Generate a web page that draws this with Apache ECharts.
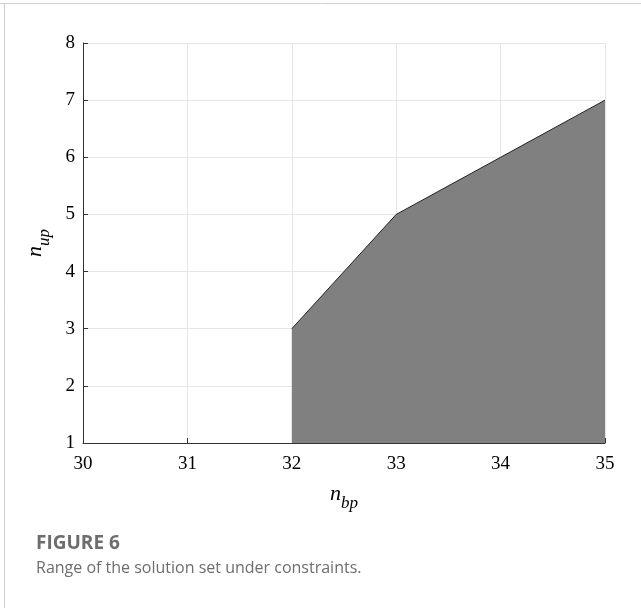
<!DOCTYPE html>
<html>
<head>
<meta charset="utf-8">
<script src="https://cdn.jsdelivr.net/npm/echarts@6/dist/echarts.min.js"></script>
<style>
  html, body { margin: 0; padding: 0; background: #fff; }
  #chart { width: 641px; height: 608px; }
</style>
</head>
<body>
<div id="chart"></div>
<script>
// Upper boundary of the feasible region (n_bp, n_up); the area below it down to n_up = 1 is shaded.
const nBp = [32, 33, 34, 35];
const nUp = [3, 5, 6, 7];
const xTicks = [30, 31, 32, 33, 34, 35];
const yTicks = [1, 2, 3, 4, 5, 6, 7, 8];

const boundary = nBp.map((x, i) => [x, nUp[i]]);

const serif = '"Liberation Serif", "Times New Roman", serif';
const chart = echarts.init(document.getElementById('chart'));

// Italic symbol with a lowered subscript
const nameRich = {
  n: { fontFamily: serif, fontStyle: 'italic', fontSize: 22, color: '#000' },
  s: { fontFamily: serif, fontStyle: 'italic', fontSize: 17, color: '#000', padding: [18, 0, 0, 0] }
};

chart.setOption({
  animation: false,
  backgroundColor: '#fff',
  grid: { left: 83, right: 36, top: 43, bottom: 165 },
  xAxis: {
    type: 'value',
    min: xTicks[0], max: xTicks[xTicks.length - 1], interval: 1,
    name: '{n|n}{s|bp}',
    nameLocation: 'middle',
    nameGap: 34,
    nameTextStyle: { rich: nameRich },
    axisLine: { onZero: false, lineStyle: { color: '#333', width: 1 } },
    axisTick: { inside: true, length: 5, lineStyle: { color: '#333' } },
    axisLabel: { fontFamily: serif, fontSize: 19, color: '#000', margin: 12 },
    splitLine: { show: true, lineStyle: { color: '#e6e6e6', width: 1 } }
  },
  yAxis: {
    type: 'value',
    min: yTicks[0], max: yTicks[yTicks.length - 1], interval: 1,
    name: '{n|n}{s|up}',
    nameLocation: 'middle',
    nameRotate: 90,
    nameGap: 30,
    nameTextStyle: { rich: nameRich },
    axisLine: { onZero: false, lineStyle: { color: '#333', width: 1 } },
    axisTick: { inside: true, length: 5, lineStyle: { color: '#333' } },
    axisLabel: { fontFamily: serif, fontSize: 19, color: '#000', margin: 8 },
    splitLine: { show: true, lineStyle: { color: '#e6e6e6', width: 1 } }
  },
  series: [{
    type: 'line',
    data: boundary,
    symbol: 'none',
    lineStyle: { color: '#222', width: 1 },
    areaStyle: { color: '#808080', opacity: 1, origin: 'start' },
    z: 3
  }],
  graphic: [
    { type: 'line', shape: { x1: 0, y1: 3.5, x2: 641, y2: 3.5 }, style: { stroke: '#cfcfcf', lineWidth: 1 } },
    { type: 'line', shape: { x1: 4.5, y1: 3, x2: 4.5, y2: 608 }, style: { stroke: '#cfcfcf', lineWidth: 1 } },
    {
      type: 'text', left: 36, top: 534,
      style: { text: 'FIGURE 6', font: 'bold 19px "Open Sans", sans-serif', fill: '#6d6d6d' }
    },
    {
      type: 'text', left: 36, top: 560,
      style: { text: 'Range of the solution set under constraints.', font: '16px "Open Sans", sans-serif', fill: '#6d6d6d' }
    }
  ]
});
</script>
</body>
</html>
